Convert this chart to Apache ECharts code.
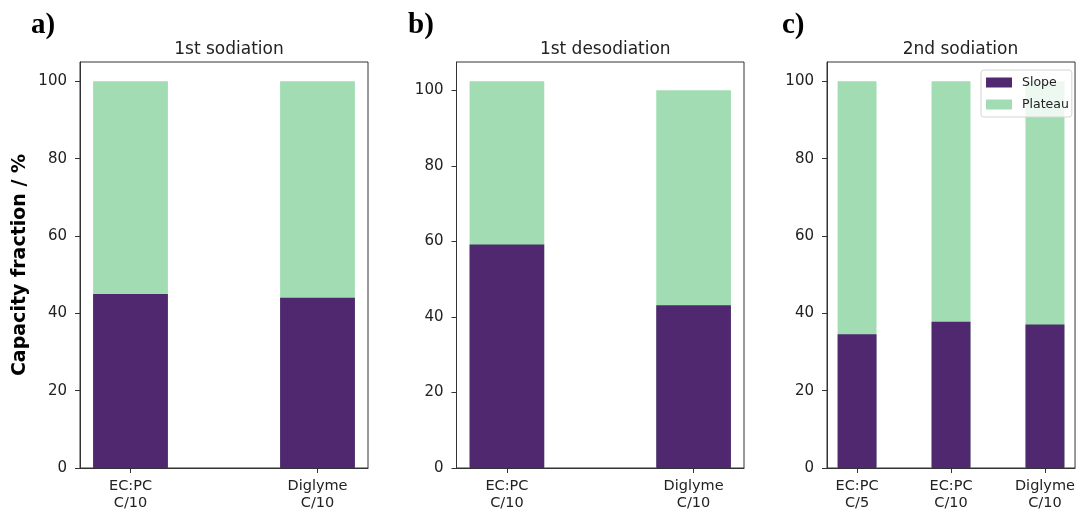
<!DOCTYPE html>
<html>
<head>
<meta charset="utf-8">
<script src="https://cdn.jsdelivr.net/npm/echarts@6/dist/echarts.min.js"></script>
<style>html,body{margin:0;padding:0;background:#fff}#c{width:1078px;height:513px}</style>
</head>
<body>
<div id="c"></div>
<script>
// ---- data ----
const categoriesA = ['EC:PC\nC/10', 'Diglyme\nC/10'];
const slopeA = [45, 44];
const plateauA = [55, 56];

const categoriesB = ['EC:PC\nC/10', 'Diglyme\nC/10'];
const slopeB = [59.2, 43.1];
const plateauB = [43.2, 56.9];

const categoriesC = ['EC:PC\nC/5', 'EC:PC\nC/10', 'Diglyme\nC/10'];
const slopeC = [34.6, 37.8, 37.1];
const plateauC = [65.4, 62.2, 62.9];

const yTickValues = [0, 20, 40, 60, 80, 100];
const titles = ['1st sodiation', '1st desodiation', '2nd sodiation'];
const panelLetters = ['a)', 'b)', 'c)'];
const seriesNames = ['Slope', 'Plateau'];

// ---- style / layout ----
const SLOPE_COLOR = '#4f2870';
const PLATEAU_COLOR = '#a2dcb2';
const AXIS_COLOR = '#333';
const TEXT_COLOR = '#222';
const FONT = 'DejaVu Sans';

const panels = [
  { cats: categoriesA, slope: slopeA, plateau: plateauA, left: 80, width: 288, yMax: 105, letterX: 26 },
  { cats: categoriesB, slope: slopeB, plateau: plateauB, left: 456.5, width: 287.5, yMax: 107.5, letterX: 403 },
  { cats: categoriesC, slope: slopeC, plateau: plateauC, left: 827, width: 257, yMax: 105, letterX: 777 }
];
const TOP = 62, HEIGHT = 406;
const BAR_W = 0.4;

const grid = [], xAxis = [], yAxis = [], series = [], title = [];
panels.forEach((p, i) => {
  const n = p.cats.length;
  const span = (n - 1) + BAR_W;
  const xMin = -BAR_W / 2 - span * 0.05;
  const xMax = (n - 1) + BAR_W / 2 + span * 0.05;
  const pxPerUnit = p.width / (xMax - xMin);
  grid.push({ left: p.left, top: TOP, width: p.width, height: HEIGHT, show: true,
    borderColor: AXIS_COLOR, borderWidth: 1, backgroundColor: 'transparent' });
  const tickIdx = p.cats.map((_, k) => k);
  xAxis.push({
    type: 'value', gridIndex: i, min: xMin, max: xMax,
    axisLine: { show: true, onZero: false, lineStyle: { color: AXIS_COLOR, width: 1 } },
    axisTick: { show: true, length: 5, customValues: tickIdx, lineStyle: { color: AXIS_COLOR } },
    axisLabel: { customValues: tickIdx, formatter: v => p.cats[Math.round(v)] || '',
      fontFamily: FONT, fontSize: 14.5, lineHeight: 17, color: TEXT_COLOR, margin: 10 },
    splitLine: { show: false }
  });
  yAxis.push({
    type: 'value', gridIndex: i, min: 0, max: p.yMax,
    axisLine: { show: true, onZero: false, lineStyle: { color: AXIS_COLOR, width: 1 } },
    axisTick: { show: true, length: 5, customValues: yTickValues, lineStyle: { color: AXIS_COLOR } },
    axisLabel: { customValues: yTickValues, fontFamily: FONT, fontSize: 15, color: TEXT_COLOR, margin: 13 },
    splitLine: { show: false },
    name: i === 0 ? 'Capacity fraction / %' : '',
    nameLocation: 'middle', nameGap: 50,
    nameTextStyle: { fontFamily: FONT, fontSize: 19, fontWeight: 'bold', color: '#000' }
  });
  const bw = BAR_W * pxPerUnit;
  // Plateau bar sits on top of slope: draw the total (slope + plateau) behind, slope in front.
  series.push({
    name: seriesNames[1], type: 'bar', xAxisIndex: i, yAxisIndex: i, z: 2,
    barWidth: bw, barGap: '-100%', itemStyle: { color: PLATEAU_COLOR },
    data: p.plateau.map((v, k) => [k, p.slope[k] + v])
  });
  series.push({
    name: seriesNames[0], type: 'bar', xAxisIndex: i, yAxisIndex: i, z: 3,
    barWidth: bw, barGap: '-100%', itemStyle: { color: SLOPE_COLOR },
    data: p.slope.map((v, k) => [k, v])
  });
  title.push({ text: titles[i], left: p.left + p.width / 2, top: 36, textAlign: 'center',
    textStyle: { fontFamily: FONT, fontSize: 17, fontWeight: 'normal', color: TEXT_COLOR } });
  title.push({ text: panelLetters[i], left: p.letterX, top: 6,
    textStyle: { fontFamily: 'Liberation Serif', fontSize: 29, fontWeight: 'bold', color: '#000' } });
});

const chart = echarts.init(document.getElementById('c'), null, { renderer: 'canvas' });
chart.setOption({
  animation: false,
  title, grid, xAxis, yAxis, series,
  legend: {
    data: seriesNames, orient: 'vertical', left: 981, top: 70,
    icon: 'rect', itemWidth: 26, itemHeight: 10, itemGap: 9,
    backgroundColor: 'rgba(255,255,255,0.8)', borderColor: '#d5d5d5', borderWidth: 1, borderRadius: 3,
    padding: [6, 3, 6, 5],
    textStyle: { fontFamily: FONT, fontSize: 12.5, color: TEXT_COLOR, padding: [0, 0, 0, 5] }
  }
});
</script>
</body>
</html>
